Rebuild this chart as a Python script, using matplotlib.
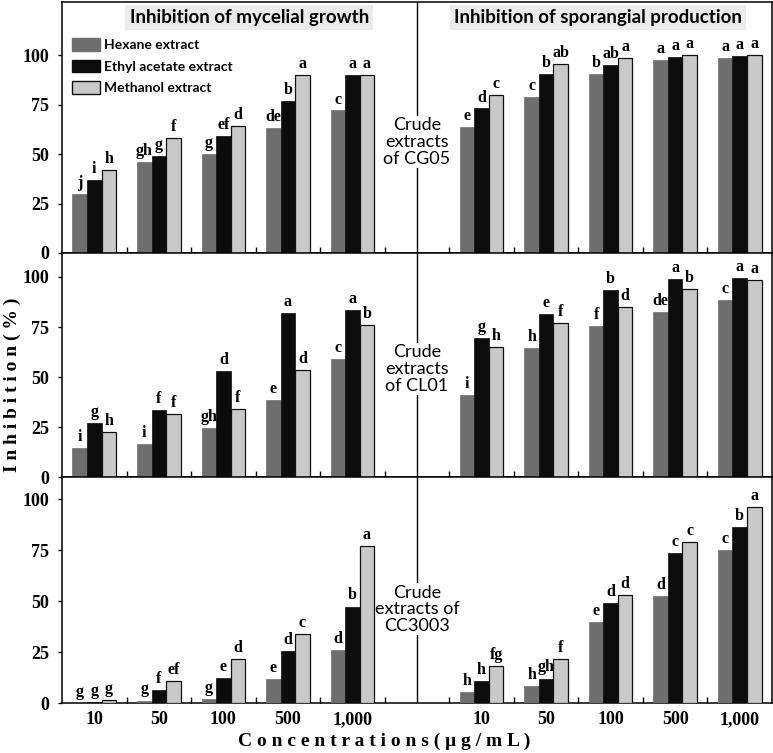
import numpy as np
import matplotlib.pyplot as plt
from matplotlib.patches import Patch

# data
concs = ['10', '50', '100', '500', '1,000']
isolates = ['CG05', 'CL01', 'CC3003']
row_labels = ['Crude\nextracts\nof CG05', 'Crude\nextracts\nof CL01', 'Crude\nextracts of\nCC3003']

# mycelial growth inhibition (%)
myc_hex = [[30, 46, 50, 63, 72], [14.5, 16.7, 24.5, 38.5, 59], [0.2, 1.2, 1.8, 11.7, 25.8]]
myc_eth = [[37, 49, 59, 77, 90], [27, 33.7, 52.8, 82, 83.5], [0.6, 6.5, 12.2, 25.3, 47.3]]
myc_met = [[42, 58, 64, 90, 90], [22.5, 31.5, 34.2, 53.3, 76], [1.6, 11, 21.5, 33.6, 77]]
myc_hex_let = [['j', 'gh', 'g', 'de', 'c'], ['i', 'i', 'gh', 'e', 'c'], ['g', 'g', 'g', 'e', 'd']]
myc_eth_let = [['i', 'g', 'ef', 'b', 'a'], ['g', 'f', 'd', 'a', 'a'], ['g', 'f', 'e', 'd', 'b']]
myc_met_let = [['h', 'f', 'd', 'a', 'a'], ['h', 'f', 'f', 'd', 'b'], ['g', 'ef', 'd', 'c', 'a']]

# sporangial production inhibition (%)
spo_hex = [[63.6, 79, 90.4, 97.5, 98.6], [40.8, 64.5, 75.3, 82.3, 88.3], [5.4, 8.2, 39.5, 52.5, 75]]
spo_eth = [[73, 90.4, 95, 99, 99.7], [69.5, 81.5, 93.7, 99, 99.5], [10.8, 12, 49, 73.4, 86.5]]
spo_met = [[80, 95.4, 98.5, 100, 100], [65, 77, 84.8, 94, 98.7], [18.3, 21.5, 53, 79.1, 96.2]]
spo_hex_let = [['e', 'c', 'b', 'a', 'a'], ['i', 'h', 'f', 'de', 'c'], ['h', 'h', 'e', 'd', 'c']]
spo_eth_let = [['d', 'b', 'ab', 'a', 'a'], ['g', 'e', 'b', 'a', 'a'], ['h', 'gh', 'd', 'c', 'b']]
spo_met_let = [['c', 'ab', 'a', 'a', 'a'], ['h', 'f', 'd', 'b', 'a'], ['fg', 'f', 'd', 'c', 'a']]

series = ['Hexane extract', 'Ethyl acetate extract', 'Methanol extract']
colors = ['#6e6e6e', '#0c0c0c', '#c9c9c9']
edges = ['#6e6e6e', '#0c0c0c', '#111111']

serif = 'Liberation Serif'
sans = 'Lato'

fig = plt.figure(figsize=(7.73, 7.53), dpi=100)
left, right = 62 / 773, 772 / 773
row_px = [(2, 253), (253, 477), (477, 703)]
ytops = [126.8, 112, 110.8]
label_y = [56, 54, 46]

xpos_l = np.arange(5)
xpos_r = np.arange(6, 11)
w = 0.225

axes = []
for r in range(3):
    t, b = row_px[r]
    ax = fig.add_axes([left, 1 - b / 753, right - left, (b - t) / 753])
    axes.append(ax)
    hx = [myc_hex[r], myc_eth[r], myc_met[r]]
    hl = [myc_hex_let[r], myc_eth_let[r], myc_met_let[r]]
    sx = [spo_hex[r], spo_eth[r], spo_met[r]]
    sl = [spo_hex_let[r], spo_eth_let[r], spo_met_let[r]]
    for k in range(3):
        off = (k - 1) * w
        for xp, vals, lets in [(xpos_l, hx[k], hl[k]), (xpos_r, sx[k], sl[k])]:
            ax.bar(xp + off, vals, w, color=colors[k], edgecolor=edges[k],
                   linewidth=0.9 if k == 2 else 0.5, zorder=3)
            for x, v, s in zip(xp + off, vals, lets):
                ax.text(x, v + 1.5, s, ha='center', va='bottom', fontsize=11.5,
                        fontweight='bold', family=serif, zorder=4)

    ax.set_xlim(-0.5, 10.5)
    ax.set_ylim(0, ytops[r])
    ax.axvline(5, color='black', lw=1, zorder=2)
    # white box hides the divider line, bars stay on top of it
    ax.text(5, label_y[r], row_labels[r], ha='center', va='center', fontsize=13,
            family=sans, linespacing=1.05, zorder=2.5,
            bbox=dict(facecolor='white', edgecolor='none', pad=1))

    ax.set_yticks([0, 25, 50, 75, 100])
    ax.set_yticklabels(['0', '25', '50', '75', '100'], fontsize=13, fontweight='bold', family=serif)
    ax.tick_params(axis='y', direction='out', length=3, width=1, pad=6)
    minor = [x for x in np.arange(12) - 0.5 if x not in (-0.5, 10.5)]
    ax.set_xticks(minor, minor=True)
    ax.tick_params(axis='x', which='minor', direction='in', length=4, width=1)
    if r == 2:
        ax.set_xticks(list(xpos_l) + list(xpos_r))
        ax.set_xticklabels(concs + concs, fontsize=13, fontweight='bold', family=serif)
        ax.tick_params(axis='x', which='major', length=0, pad=6)
    else:
        ax.set_xticks([])
    for sp in ax.spines.values():
        sp.set_linewidth(1.1)

# panel titles and legend on the top row
top = axes[0]
top.text(2.4, 119.0, 'Inhibition of mycelial growth', ha='center', va='center',
         fontsize=13.5, fontweight='bold', family=sans,
         bbox=dict(facecolor='#ebebeb', edgecolor='none', pad=3))
top.text(7.8, 119.0, 'Inhibition of sporangial production', ha='center', va='center',
         fontsize=13.5, fontweight='bold', family=sans,
         bbox=dict(facecolor='#ebebeb', edgecolor='none', pad=3))
handles = [Patch(facecolor=colors[k], edgecolor=edges[k], label=series[k]) for k in range(3)]
top.legend(handles=handles, loc='upper left', bbox_to_anchor=(-0.005, 0.91), frameon=False,
           prop={'family': sans, 'size': 10, 'weight': 'bold'}, handlelength=2.0,
           handleheight=1.0, labelspacing=0.6, handletextpad=0.3, borderaxespad=0.6)

fig.text(0.016, 1 - 385 / 753, ' '.join('Inhibition(%)'), rotation=90, ha='center', va='center',
         fontsize=14, fontweight='bold', family=serif)
fig.text(384 / 773, 1 - 741 / 753, ' '.join('Concentrations(μg/mL)'), ha='center', va='center',
         fontsize=14, fontweight='bold', family=serif)

plt.savefig('out.png', dpi=100)
